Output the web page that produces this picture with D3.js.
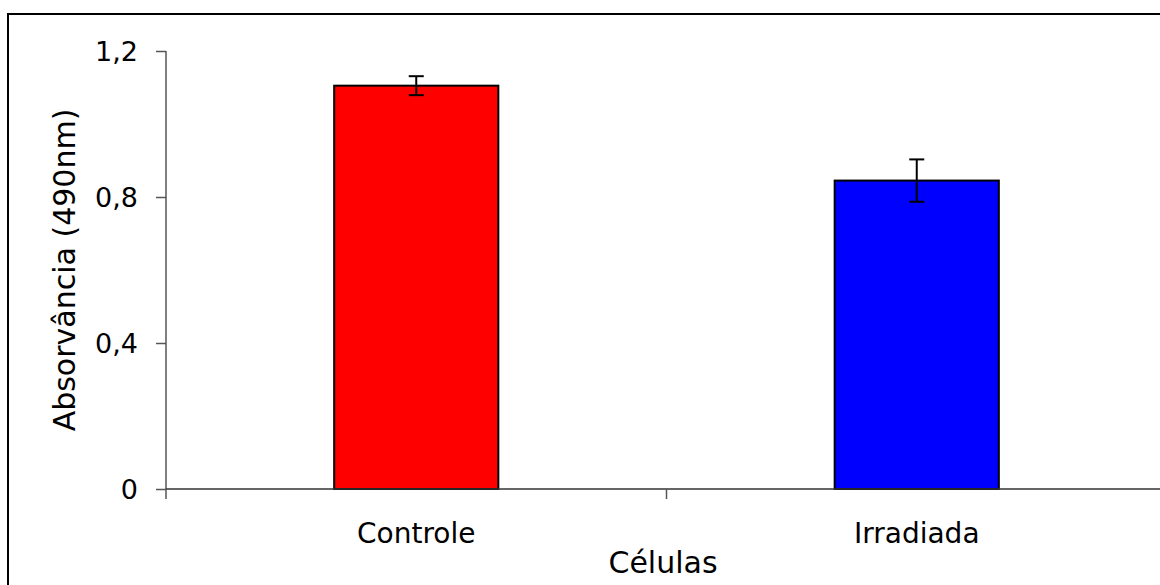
<!DOCTYPE html>
<html>
<head>
<meta charset="utf-8">
<script src="https://cdn.jsdelivr.net/npm/d3@7"></script>
<style>
  html, body { margin: 0; padding: 0; background: #fff; }
  svg { display: block; font-family: Verdana, "DejaVu Sans", sans-serif; }
</style>
</head>
<body>
<svg id="chart" width="1160" height="585"></svg>
<script>
// Cell viability (absorbance at 490 nm), mean ± error
const categories = ["Controle", "Irradiada"];
const absorbance = [1.105, 0.845];
const errors = [0.026, 0.058];
const barColors = ["#ff0000", "#0000ff"];
const yTicks = [0, 0.4, 0.8, 1.2];
const yTickLabels = ["0", "0,4", "0,8", "1,2"];
const xTitle = "Células";
const yTitle = "Absorvância (490nm)";

const svg = d3.select("#chart");

// Frame around the chart area
svg.append("rect")
  .attr("x", 8).attr("y", 14)
  .attr("width", 1170).attr("height", 600)
  .attr("fill", "none").attr("stroke", "#000").attr("stroke-width", 2);

const plot = { left: 166, right: 1167, top: 51, bottom: 489 };

const x = d3.scaleBand()
  .domain(categories)
  .range([plot.left, plot.right])
  .paddingInner(0.672)
  .paddingOuter(0.336);

const y = d3.scaleLinear()
  .domain([0, 1.2])
  .range([plot.bottom, plot.top]);

const axisColor = "#555";

// Bars
svg.append("g").selectAll("rect")
  .data(categories)
  .join("rect")
  .attr("x", d => x(d))
  .attr("width", x.bandwidth())
  .attr("y", (d, i) => y(absorbance[i]))
  .attr("height", (d, i) => y(0) - y(absorbance[i]))
  .attr("fill", (d, i) => barColors[i])
  .attr("stroke", "#000")
  .attr("stroke-width", 2);

// Error bars
const eb = svg.append("g").attr("stroke", "#000").attr("stroke-width", 2);
categories.forEach((c, i) => {
  const cx = x(c) + x.bandwidth() / 2;
  const hi = y(absorbance[i] + errors[i]);
  const lo = y(absorbance[i] - errors[i]);
  eb.append("line").attr("x1", cx).attr("x2", cx).attr("y1", hi).attr("y2", lo);
  eb.append("line").attr("x1", cx - 7.5).attr("x2", cx + 7.5).attr("y1", hi).attr("y2", hi);
  eb.append("line").attr("x1", cx - 7.5).attr("x2", cx + 7.5).attr("y1", lo).attr("y2", lo);
});

// Y axis
const yAxis = d3.axisLeft(y)
  .tickValues(yTicks)
  .tickFormat((d, i) => yTickLabels[i])
  .tickSize(10)
  .tickPadding(18);
const gy = svg.append("g")
  .attr("transform", `translate(${plot.left},0)`)
  .call(yAxis);
gy.select(".domain").attr("stroke", axisColor).attr("stroke-width", 1.5)
  .attr("d", `M0,${plot.top}V${plot.bottom}`);
gy.selectAll(".tick line").attr("stroke", axisColor).attr("stroke-width", 1.5);
gy.selectAll(".tick text")
  .attr("fill", "#000")
  .attr("font-family", 'Verdana, "DejaVu Sans", sans-serif')
  .attr("font-size", 27)
  .attr("dy", "0.36em");

// X axis: line with ticks at category boundaries
const gx = svg.append("g");
gx.append("line")
  .attr("x1", plot.left).attr("x2", 1160)
  .attr("y1", plot.bottom).attr("y2", plot.bottom)
  .attr("stroke", "#333").attr("stroke-width", 1.5);
const step = x.step();
const boundaries = categories.map((c, i) => x(c) - x.paddingOuter() * step);
gx.selectAll("line.btick")
  .data(boundaries)
  .join("line")
  .attr("class", "btick")
  .attr("x1", d => d).attr("x2", d => d)
  .attr("y1", plot.bottom).attr("y2", plot.bottom + 10)
  .attr("stroke", axisColor).attr("stroke-width", 1.5);

gx.selectAll("text.cat")
  .data(categories)
  .join("text")
  .attr("class", "cat")
  .attr("x", d => x(d) + x.bandwidth() / 2)
  .attr("y", 543)
  .attr("text-anchor", "middle")
  .attr("font-size", 28)
  .attr("fill", "#000")
  .text(d => d);

// Axis titles
svg.append("text")
  .attr("x", (plot.left + 1160) / 2)
  .attr("y", 573)
  .attr("text-anchor", "middle")
  .attr("font-size", 30)
  .attr("fill", "#000")
  .text(xTitle);

svg.append("text")
  .attr("transform", `translate(75,${(plot.top + plot.bottom) / 2}) rotate(-90)`)
  .attr("text-anchor", "middle")
  .attr("font-size", 30)
  .attr("fill", "#000")
  .text(yTitle);
</script>
</body>
</html>
